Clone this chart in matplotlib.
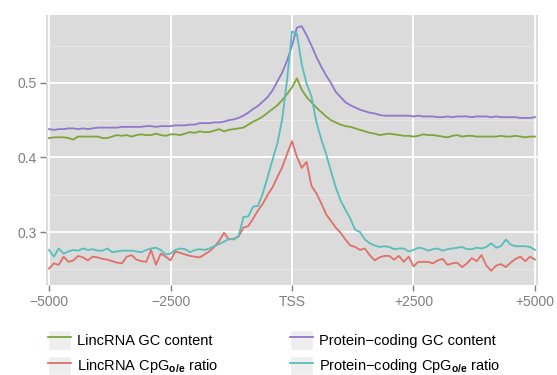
import numpy as np
import matplotlib
matplotlib.use("Agg")
import matplotlib.pyplot as plt
from matplotlib.lines import Line2D
from matplotlib.patches import Rectangle
from matplotlib.legend_handler import HandlerTuple

plt.rcParams['font.family'] = ['Liberation Sans', 'DejaVu Sans']
plt.rcParams['mathtext.fontset'] = 'custom'
plt.rcParams['mathtext.rm'] = 'Liberation Sans'
plt.rcParams['mathtext.bf'] = 'Liberation Sans:bold'

# distance to TSS (bp), 100 bp bins
position = np.arange(-5000, 5001, 100)

lincrna_gc = [
    0.426, 0.427, 0.427, 0.427, 0.426, 0.424, 0.428, 0.428, 0.428, 0.428,
    0.428, 0.426, 0.426, 0.428, 0.430, 0.429, 0.430, 0.428, 0.430, 0.431,
    0.430, 0.430, 0.432, 0.430, 0.429, 0.431, 0.431, 0.430, 0.432, 0.434,
    0.433, 0.435, 0.434, 0.434, 0.436, 0.438, 0.435, 0.437, 0.438, 0.439,
    0.440, 0.444, 0.448, 0.451, 0.455, 0.460, 0.465, 0.470, 0.477, 0.485,
    0.494, 0.506, 0.491, 0.481, 0.474, 0.467, 0.461, 0.455, 0.450, 0.447,
    0.444, 0.442, 0.441, 0.439, 0.437, 0.435, 0.433, 0.432, 0.430, 0.431,
    0.432, 0.431, 0.430, 0.429, 0.429, 0.428, 0.429, 0.431, 0.430, 0.430,
    0.429, 0.428, 0.427, 0.429, 0.430, 0.428, 0.429, 0.429, 0.428, 0.428,
    0.428, 0.428, 0.428, 0.429, 0.428, 0.428, 0.429, 0.428, 0.427, 0.428,
    0.428,
]

protein_gc = [
    0.438, 0.437, 0.438, 0.438, 0.439, 0.439, 0.438, 0.439, 0.438, 0.439,
    0.440, 0.440, 0.440, 0.440, 0.440, 0.441, 0.441, 0.441, 0.441, 0.441,
    0.442, 0.442, 0.441, 0.442, 0.442, 0.442, 0.443, 0.443, 0.443, 0.444,
    0.444, 0.446, 0.446, 0.446, 0.447, 0.447, 0.448, 0.450, 0.451, 0.453,
    0.456, 0.460, 0.465, 0.469, 0.475, 0.481, 0.490, 0.502, 0.514, 0.530,
    0.550, 0.574, 0.576, 0.564, 0.550, 0.535, 0.522, 0.510, 0.500, 0.488,
    0.481, 0.474, 0.470, 0.467, 0.464, 0.462, 0.460, 0.459, 0.457, 0.456,
    0.456, 0.456, 0.456, 0.456, 0.456, 0.455, 0.456, 0.455, 0.455, 0.455,
    0.454, 0.454, 0.455, 0.454, 0.455, 0.455, 0.455, 0.454, 0.455, 0.455,
    0.455, 0.454, 0.455, 0.454, 0.454, 0.454, 0.454, 0.453, 0.453, 0.453,
    0.454,
]

lincrna_cpg = [
    0.251, 0.258, 0.256, 0.267, 0.260, 0.262, 0.268, 0.266, 0.262, 0.267,
    0.266, 0.264, 0.263, 0.261, 0.259, 0.258, 0.267, 0.269, 0.263, 0.261,
    0.260, 0.276, 0.256, 0.271, 0.267, 0.262, 0.274, 0.272, 0.270, 0.268,
    0.267, 0.266, 0.270, 0.274, 0.280, 0.288, 0.299, 0.290, 0.291, 0.294,
    0.306, 0.308, 0.318, 0.329, 0.338, 0.350, 0.360, 0.374, 0.387, 0.405,
    0.422, 0.401, 0.386, 0.394, 0.362, 0.352, 0.339, 0.324, 0.315, 0.306,
    0.299, 0.290, 0.282, 0.280, 0.276, 0.278, 0.269, 0.262, 0.266, 0.268,
    0.268, 0.263, 0.268, 0.260, 0.267, 0.254, 0.260, 0.260, 0.260, 0.258,
    0.262, 0.264, 0.256, 0.258, 0.259, 0.253, 0.258, 0.265, 0.261, 0.269,
    0.255, 0.248, 0.255, 0.257, 0.253, 0.259, 0.264, 0.267, 0.261, 0.267,
    0.263,
]

protein_cpg = [
    0.276, 0.267, 0.278, 0.271, 0.274, 0.276, 0.275, 0.278, 0.276, 0.277,
    0.275, 0.275, 0.278, 0.273, 0.274, 0.275, 0.275, 0.275, 0.274, 0.273,
    0.276, 0.278, 0.279, 0.276, 0.270, 0.271, 0.276, 0.278, 0.277, 0.273,
    0.276, 0.277, 0.276, 0.278, 0.281, 0.284, 0.287, 0.291, 0.290, 0.294,
    0.320, 0.321, 0.334, 0.335, 0.352, 0.374, 0.397, 0.419, 0.452, 0.505,
    0.569, 0.566, 0.525, 0.499, 0.482, 0.448, 0.425, 0.405, 0.382, 0.360,
    0.342, 0.330, 0.318, 0.303, 0.300, 0.290, 0.285, 0.282, 0.280, 0.281,
    0.280, 0.277, 0.278, 0.278, 0.274, 0.276, 0.279, 0.278, 0.275, 0.277,
    0.278, 0.275, 0.277, 0.278, 0.279, 0.280, 0.277, 0.277, 0.279, 0.278,
    0.280, 0.285, 0.279, 0.281, 0.290, 0.283, 0.281, 0.281, 0.281, 0.280,
    0.276,
]

cpg_oe = r"CpG$_{\mathbf{o/e}}$ ratio"
series_labels = [
    "LincRNA GC content",
    "LincRNA " + cpg_oe,
    "Protein\u2212coding GC content",
    "Protein\u2212coding " + cpg_oe,
]
series_colors = ["#7FA53A", "#E0706A", "#8F79C9", "#57BEBB"]

x_ticks = [-5000, -2500, 0, 2500, 5000]
x_ticklabels = ["\u22125000", "\u22122500", "TSS", "+2500", "+5000"]
y_ticks = [0.3, 0.4, 0.5]
y_minor = [0.25, 0.35, 0.45, 0.55]

fig = plt.figure(figsize=(5.57, 3.75), dpi=100)
ax = fig.add_axes([46 / 557, 1 - 285 / 375, 492 / 557, 270 / 375])
ax.set_facecolor("#DBDBDB")
for s in ax.spines.values():
    s.set_visible(False)

# grid like ggplot
for yv in y_minor:
    ax.axhline(yv, color="#E9E9E9", lw=0.6, zorder=0)
for yv in y_ticks:
    ax.axhline(yv, color="white", lw=1.3, zorder=0)
for xv in x_ticks:
    ax.axvline(xv, color="white", lw=1.3, zorder=0)

all_series = [lincrna_gc, lincrna_cpg, protein_gc, protein_cpg]
handles = []
for vals, col in zip(all_series, series_colors):
    ax.plot(position, vals, color=col, lw=1.3, zorder=2)
    key_bg = Rectangle((0, 0), 1, 1, facecolor="#EEEEEE", edgecolor="white", lw=1)
    handles.append((key_bg, Line2D([], [], color=col, lw=1.3)))

ax.set_xlim(-5062, 5062)
ax.set_ylim(0.229, 0.591)
ax.set_xticks(x_ticks)
ax.set_xticklabels(x_ticklabels)
ax.set_yticks(y_ticks)
ax.set_yticklabels(["0.3", "0.4", "0.5"])
ax.tick_params(colors="#7F7F7F", labelcolor="#7F7F7F", labelsize=10,
               length=4, width=1, pad=3)

fig.legend(handles, series_labels, ncol=2, loc="upper left",
           bbox_to_anchor=(48 / 557, 1 - 330 / 375), frameon=False,
           borderpad=0, borderaxespad=0, fontsize=10.5,
           handlelength=1.6, handleheight=1.7, handletextpad=0.42,
           labelspacing=0.4, columnspacing=4.9,
           handler_map={tuple: HandlerTuple(ndivide=1, pad=0)})

fig.savefig("out.png", dpi=100)
